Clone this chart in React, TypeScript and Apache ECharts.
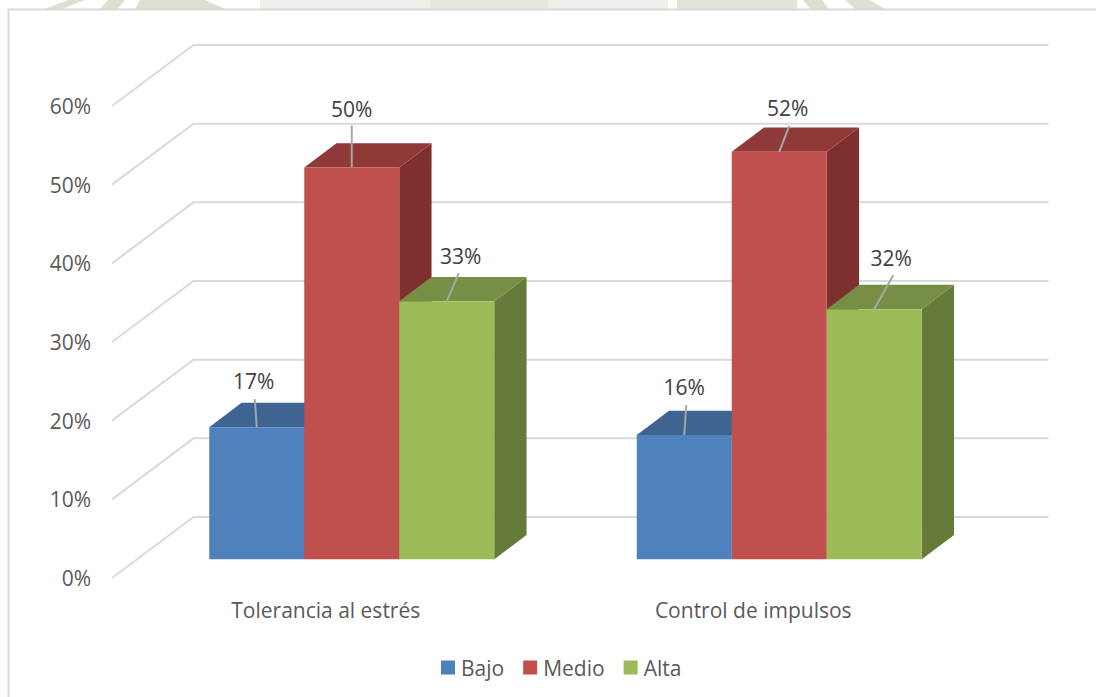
import React, { useEffect, useRef } from "react";
import * as echarts from "echarts";

const categories = ["Tolerancia al estrés", "Control de impulsos"];
const yTicks = [0, 10, 20, 30, 40, 50, 60];
const bajo = [16.8, 15.8];
const medio = [49.8, 51.8];
const alta = [32.8, 31.8];
const seriesNames = ["Bajo", "Medio", "Alta"];
const seriesValues = [bajo, medio, alta];

// Appearance and layout, separate from the data
const frontColors = ["#4F81BD", "#C0504D", "#9BBB59"];
const topColors = ["#3E6491", "#8F3A38", "#778F45"];
const sideColors = ["#335378", "#7D302E", "#667A3A"];
const labelShift = [
  [[-3, -46], [0, -59], [14, -45]],
  [[0, -48], [8.5, -44], [17, -51]],
];
const leaderStart = [
  [[-2, -28], [0, -42], [12, -28]],
  [[2, -30], [10, -26], [19, -34]],
];
const WALL = [81.5, -61];
const FLOOR = [26, -18.7];
const DEPTH = [32.3, -24.3];
const BAR_SHARE = 0.2222;
const GRID_COLOR = "#D9D9D9";
const FONT = "'Open Sans', sans-serif";
const FONT_SIZE = 21;

const wallLines = (params: any, api: any) => {
  const v = api.value(0);
  const cs = params.coordSys;
  const y = api.coord([0, v])[1];
  const x0 = cs.x;
  const x1 = x0 + WALL[0];
  const y1 = y + WALL[1];
  return {
    type: "polyline",
    shape: { points: [[x0, y], [x1, y1], [x0 + cs.width + WALL[0], y1]] },
    style: { stroke: GRID_COLOR, lineWidth: 2, fill: "none" },
    silent: true,
  };
};

const bar3d = (s: number) => (_params: any, api: any) => {
  const c = api.value(0);
  const v = api.value(1);
  const base = api.coord([c, 0]);
  const top = api.coord([c, v]);
  const w = api.size([1, 0])[0] * BAR_SHARE;
  const xL = base[0] + (s - 1.5) * w + FLOOR[0];
  const xR = xL + w;
  const yB = base[1] + FLOOR[1];
  const yT = top[1] + FLOOR[1];
  const [dx, dy] = DEPTH;
  const ax = (xL + xR) / 2;
  const shift = labelShift[c][s];
  const start = leaderStart[c][s];
  return {
    type: "group",
    children: [
      {
        type: "polygon",
        shape: { points: [[xR, yT], [xR + dx, yT + dy], [xR + dx, yB + dy], [xR, yB]] },
        style: { fill: sideColors[s] },
      },
      {
        type: "polygon",
        shape: { points: [[xL, yT], [xL + dx, yT + dy], [xR + dx, yT + dy], [xR, yT]] },
        style: { fill: topColors[s] },
      },
      {
        type: "rect",
        shape: { x: xL, y: yT, width: w, height: yB - yT },
        style: { fill: frontColors[s] },
      },
      {
        type: "line",
        shape: { x1: ax + start[0], y1: yT + start[1], x2: ax, y2: yT },
        style: { stroke: "#A6A6A6", lineWidth: 2 },
      },
      {
        type: "text",
        x: ax + shift[0],
        y: yT + shift[1],
        style: {
          text: Math.round(v) + "%",
          fill: "#404040",
          font: `${FONT_SIZE}px ${FONT}`,
          align: "center",
          verticalAlign: "middle",
        },
      },
    ],
  };
};

const strip = (x: number[], fill: string) => ({
  type: "polygon",
  silent: true,
  shape: { points: [[x[0], 9], [x[1], 0], [x[2], 0], [x[3], 9]] },
  style: { fill },
});

export default function App() {
  const ref = useRef<HTMLDivElement>(null);
  useEffect(() => {
    const chart = echarts.init(ref.current!, undefined, { renderer: "svg" });
    chart.setOption({
      animation: false,
      backgroundColor: "#FFFFFF",
      textStyle: { fontFamily: FONT },
      grid: { left: 112, right: 129, top: 106, bottom: 119, containLabel: false },
      legend: {
        data: seriesNames,
        left: 436,
        top: 652,
        icon: "rect",
        itemWidth: 14,
        itemHeight: 14,
        itemGap: 19,
        textStyle: { color: "#595959", fontSize: FONT_SIZE, fontFamily: FONT, padding: [0, 0, 0, 1] },
        selectedMode: false,
      },
      xAxis: {
        type: "category",
        data: categories,
        axisLine: { show: false },
        axisTick: { show: false },
        splitLine: { show: false },
        axisLabel: { color: "#595959", fontSize: FONT_SIZE, margin: 21, fontFamily: FONT },
      },
      yAxis: {
        type: "value",
        min: 0,
        max: 60,
        interval: 10,
        axisLine: { show: false },
        axisTick: { show: false },
        splitLine: { show: false },
        axisLabel: {
          color: "#595959",
          fontSize: FONT_SIZE,
          margin: 21,
          formatter: "{value}%",
          fontFamily: FONT,
          padding: [8, 0, 0, 0],
        },
      },
      graphic: [
        strip([45, 68, 85, 62], "#DEDFD0"),
        strip([100, 108, 125, 118], "#DEDFD0"),
        strip([135, 140, 205, 225], "#DEDED0"),
        { type: "rect", silent: true, shape: { x: 260, y: 0, width: 170, height: 9 }, style: { fill: "#EFEFE9" } },
        { type: "rect", silent: true, shape: { x: 430, y: 0, width: 118, height: 9 }, style: { fill: "#E9E8E0" } },
        { type: "rect", silent: true, shape: { x: 548, y: 0, width: 120, height: 9 }, style: { fill: "#EFEFE9" } },
        { type: "rect", silent: true, shape: { x: 677, y: 0, width: 120, height: 9 }, style: { fill: "#E4E3DA" } },
        strip([810, 803, 822, 829], "#DCDFCF"),
        strip([855, 845, 870, 885], "#E0E0D2"),
        {
          type: "polyline",
          silent: true,
          shape: { points: [[8.5, 697], [8.5, 9.5], [1096, 9.5]] },
          style: { stroke: "#D9D9D9", lineWidth: 2, fill: "none" },
        },
      ],
      series: [
        {
          type: "custom",
          name: "grid",
          renderItem: wallLines,
          data: yTicks.map((t) => [t]),
          encode: { y: 0 },
          silent: true,
          z: 1,
        },
        ...seriesNames.map((name, s) => ({
          type: "custom",
          name,
          renderItem: bar3d(s),
          data: seriesValues[s].map((v, c) => [c, v]),
          encode: { x: 0, y: 1 },
          itemStyle: { color: frontColors[s] },
          z: 2 + s,
        })),
      ],
    });
    return () => chart.dispose();
  }, []);
  return <div ref={ref} style={{ position: "absolute", left: 0, top: 0, width: 1096, height: 697 }} />;
}
